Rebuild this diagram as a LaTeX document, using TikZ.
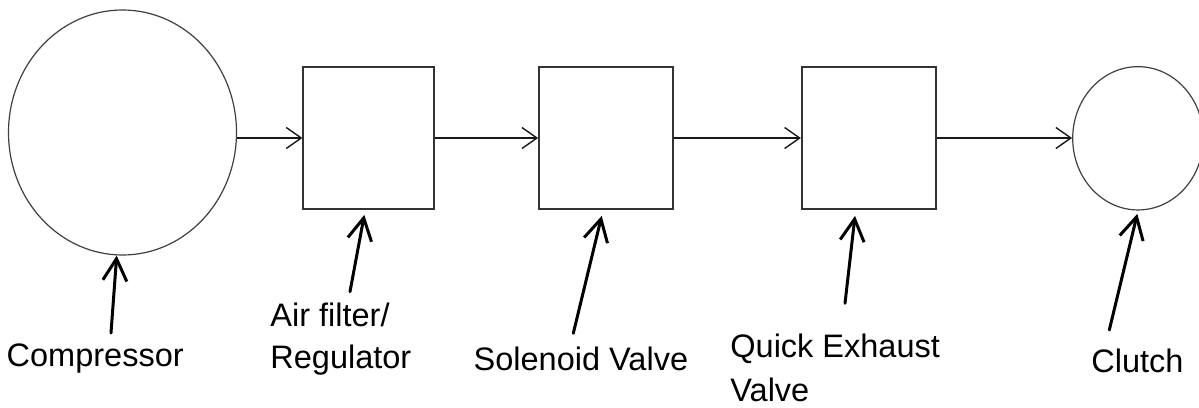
\documentclass[tikz,border=0pt]{standalone}
\usepackage{fontspec}
\setmainfont{Liberation Sans}
\usetikzlibrary{arrows.meta,shapes.geometric}
\begin{document}
\begin{tikzpicture}[x=1pt,y=-1pt,
  flow/.style={draw=black!90, line width=1.4pt, -{Straight Barb[length=15pt,width=21pt]}},
  lblarrow/.style={draw=black, line width=3pt, line cap=round, -{Straight Barb[length=22pt,width=24pt]}},
  unit/.style={draw=black!80, line width=1.8pt, rectangle, inner sep=0pt, minimum height=142.6pt},
  round/.style={draw=black!75, line width=1.2pt, ellipse, inner sep=0pt},
  lbl/.style={anchor=base west, inner sep=0pt, align=left, font=\fontsize{32.5pt}{41.6pt}\selectfont}
]
\useasboundingbox (0,0) rectangle (1199,407);
\fill[white] (0,0) rectangle (1199,407);
% components
\node[round, minimum width=228pt, minimum height=245pt] (comp) at (122.5,132.5) {};
\node[unit, minimum width=130.7pt] (f1) at (368.7,138) {};
\node[unit, minimum width=134.3pt] (f2) at (606.2,138) {};
\node[unit, minimum width=134.3pt] (f3) at (868.9,138) {};
\node[round, minimum width=130.6pt, minimum height=143.3pt] (clutch) at (1138,138.3) {};
% flow connectors
\draw[flow] (comp.east |- f1.west) -- (f1.west);
\draw[flow] (f1.east) -- (f2.west);
\draw[flow] (f2.east) -- (f3.west);
\draw[flow] (f3.east) -- (f3.east -| clutch.west);
% labels (base anchor = baseline of last line)
\node[lbl] (lcomp) at (6.5,366.7) {Compressor};
\node[lbl] (lf1) at (270.2,368.3) {Air filter/\\Regulator};
\node[lbl] (lf2) at (473.5,370) {Solenoid Valve};
\node[lbl, font=\fontsize{32.5pt}{44.4pt}\selectfont] (lf3) at (730.2,401.7) {Quick Exhaust\\Valve};
\node[lbl] (lclutch) at (1091.2,372.7) {Clutch};
% label arrow tails
\coordinate (tcomp) at (111,333);
\coordinate (tf1) at (350,291.7);
\coordinate (tf2) at (573.3,333.3);
\coordinate (tf3) at (845,303.3);
\coordinate (tclutch) at (1109.3,330);
% label arrows
\draw[lblarrow] (tcomp) -- ([xshift=-5.8pt]comp.south);
\draw[lblarrow] (tf1) -- ([xshift=-4.4pt,yshift=-4.7pt]f1.south);
\draw[lblarrow] (tf2) -- ([xshift=-4.5pt,yshift=-5.7pt]f2.south);
\draw[lblarrow] (tf3) -- ([xshift=-13.9pt,yshift=-5.7pt]f3.south);
\draw[lblarrow] (tclutch) -- ([xshift=-0.7pt,yshift=-3.3pt]clutch.south);
\end{tikzpicture}
\end{document}
